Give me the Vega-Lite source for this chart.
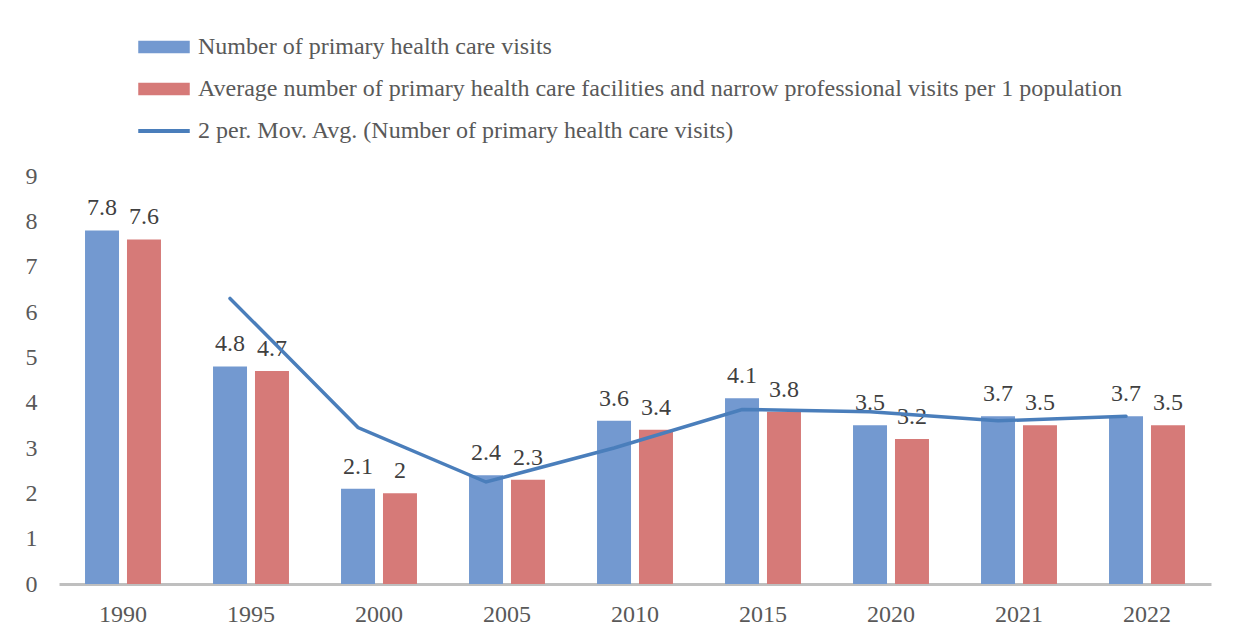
{
  "$schema": "https://vega.github.io/schema/vega-lite/v6.json",
  "width": 1152,
  "height": 408,
  "autosize": {"type": "none"},
  "padding": {"left": 59, "top": 176, "right": 23, "bottom": 55},
  "background": "white",
  "config": {
    "view": {"stroke": null},
    "font": "Liberation Serif",
    "axis": {"labelFont": "Liberation Serif", "labelFontSize": 24, "labelColor": "#595959", "title": null, "grid": false, "ticks": false}
  },
  "datasets": {
    "bars": [
      {"year": "1990", "series": "Number of primary health care visits", "value": 7.8},
      {"year": "1990", "series": "Average number of primary health care facilities and narrow professional visits per 1 population", "value": 7.6},
      {"year": "1995", "series": "Number of primary health care visits", "value": 4.8},
      {"year": "1995", "series": "Average number of primary health care facilities and narrow professional visits per 1 population", "value": 4.7},
      {"year": "2000", "series": "Number of primary health care visits", "value": 2.1},
      {"year": "2000", "series": "Average number of primary health care facilities and narrow professional visits per 1 population", "value": 2},
      {"year": "2005", "series": "Number of primary health care visits", "value": 2.4},
      {"year": "2005", "series": "Average number of primary health care facilities and narrow professional visits per 1 population", "value": 2.3},
      {"year": "2010", "series": "Number of primary health care visits", "value": 3.6},
      {"year": "2010", "series": "Average number of primary health care facilities and narrow professional visits per 1 population", "value": 3.4},
      {"year": "2015", "series": "Number of primary health care visits", "value": 4.1},
      {"year": "2015", "series": "Average number of primary health care facilities and narrow professional visits per 1 population", "value": 3.8},
      {"year": "2020", "series": "Number of primary health care visits", "value": 3.5},
      {"year": "2020", "series": "Average number of primary health care facilities and narrow professional visits per 1 population", "value": 3.2},
      {"year": "2021", "series": "Number of primary health care visits", "value": 3.7},
      {"year": "2021", "series": "Average number of primary health care facilities and narrow professional visits per 1 population", "value": 3.5},
      {"year": "2022", "series": "Number of primary health care visits", "value": 3.7},
      {"year": "2022", "series": "Average number of primary health care facilities and narrow professional visits per 1 population", "value": 3.5}
    ],
    "mavg": [
      {"year": "1995", "series": "Number of primary health care visits", "ma": 6.3},
      {"year": "2000", "series": "Number of primary health care visits", "ma": 3.45},
      {"year": "2005", "series": "Number of primary health care visits", "ma": 2.25},
      {"year": "2010", "series": "Number of primary health care visits", "ma": 3.0},
      {"year": "2015", "series": "Number of primary health care visits", "ma": 3.85},
      {"year": "2020", "series": "Number of primary health care visits", "ma": 3.8},
      {"year": "2021", "series": "Number of primary health care visits", "ma": 3.6},
      {"year": "2022", "series": "Number of primary health care visits", "ma": 3.7}
    ]
  },
  "encoding": {
    "x": {
      "field": "year", "type": "nominal", "sort": null,
      "scale": {"paddingInner": 0, "paddingOuter": 0},
      "axis": {"labelAngle": 0, "labelPadding": 18, "domainColor": "#bfbfbf", "domainWidth": 3}
    },
    "xOffset": {
      "field": "series", "type": "nominal",
      "scale": {"domain": ["Number of primary health care visits", "Average number of primary health care facilities and narrow professional visits per 1 population"], "paddingInner": 0.19, "paddingOuter": 0.62}
    }
  },
  "layer": [
    {
      "data": {"name": "bars"},
      "mark": {"type": "bar"},
      "encoding": {
        "y": {"field": "value", "type": "quantitative", "scale": {"domain": [0, 9], "nice": false},
          "axis": {"values": [0,1,2,3,4,5,6,7,8,9], "domain": false, "labelPadding": 22}},
        "color": {
          "field": "series", "type": "nominal",
          "scale": {
            "domain": ["Number of primary health care visits", "Average number of primary health care facilities and narrow professional visits per 1 population", "2 per. Mov. Avg. (Number of primary health care visits)"],
            "range": ["#7399d0", "#d67a78", "#4a7ebb"]
          },
          "legend": {
            "title": null, "orient": "none", "legendX": 93, "legendY": -141, "direction": "vertical",
            "symbolType": "M-2.5,-0.55H2.5V0.55H-2.5Z", "symbolSize": 400,
            "labelFont": "Liberation Serif", "labelFontSize": 24, "labelColor": "#595959", "labelLimit": 0, "labelOffset": 22,
            "rowPadding": 18,
            "symbolOpacity": 1,
            "encode": {
              "symbols": {"update": {
                "shape": {"signal": "datum.index === 2 ? 'M-2.5,-0.12H2.5V0.12H-2.5Z' : 'M-2.5,-0.55H2.5V0.55H-2.5Z'"}
              }}
            }
          }
        }
      }
    },
    {
      "data": {"name": "bars"},
      "mark": {"type": "text", "baseline": "alphabetic", "dy": -15, "fontSize": 24, "font": "Liberation Serif", "color": "#404040"},
      "encoding": {
        "y": {"field": "value", "type": "quantitative"},
        "text": {"field": "value", "type": "quantitative"}
      }
    },
    {
      "data": {"name": "mavg"},
      "mark": {"type": "line", "strokeWidth": 3.5, "strokeCap": "round"},
      "encoding": {
        "y": {"field": "ma", "type": "quantitative"},
        "color": {"datum": "2 per. Mov. Avg. (Number of primary health care visits)"}
      }
    }
  ]
}
